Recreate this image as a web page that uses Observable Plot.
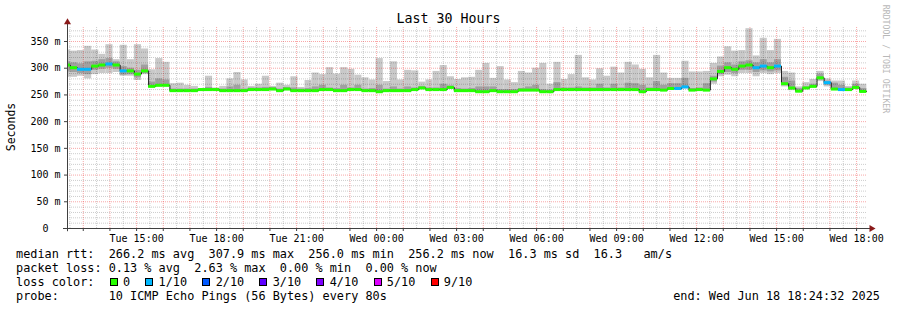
<!DOCTYPE html>
<html><head><meta charset="utf-8">
<script src="https://cdn.jsdelivr.net/npm/d3@7"></script>
<script src="https://cdn.jsdelivr.net/npm/@observablehq/plot@0.6"></script>
<style>
html,body{margin:0;padding:0;background:#fff;}
#wrap{position:relative;width:897px;height:310px;overflow:hidden;background:#fff;font-family:"DejaVu Sans Mono",monospace;color:#000;}
#chart{position:absolute;left:0;top:0;}
.title{position:absolute;left:0;top:11px;width:897px;text-align:center;font-size:13.3px;line-height:16px;}
.ylab{position:absolute;left:11px;top:127px;transform:translate(-50%,-50%) rotate(-90deg);font-size:11.5px;line-height:14px;white-space:nowrap;}
.wm{position:absolute;left:886px;top:59px;transform:translate(-50%,-50%) rotate(90deg);font-size:8.2px;line-height:10px;color:#b8b8b8;white-space:nowrap;}
.legend{position:absolute;left:16px;top:247px;width:870px;font-size:11.85px;line-height:14px;font-family:"DejaVu Sans Mono",monospace;}
.line{position:relative;height:14px;white-space:pre;}
.item{position:absolute;top:0;white-space:pre;}
.box{position:absolute;top:3px;width:6px;height:6px;border:1px solid #000;}
.end{position:absolute;right:17px;top:289px;font-size:11.85px;line-height:14px;white-space:pre;}
</style>
</head><body>
<div id="wrap">
  <div id="chart"></div>
  <div class="title">Last 30 Hours</div>
  <div class="ylab">Seconds</div>
  <div class="wm">RRDTOOL / TOBI OETIKER</div>
  <div class="legend" id="legend"></div>
  <div class="end" id="end"></div>
</div>
<script>
// ---- data (ms), one value per 16-minute step ----
const median = [
 306,301,298,298,304,306,307.9,306,295,295,289,295,266,268,268,
 258,258,258,258,260,260,260,258,258,258,258,260,260,260,261,
 258,261,258,258,258,258,260,260,258,258,260,260,258,258,256,
 258,258,258,258,260,263,260,260,260,264,258,258,258,256,256,
 258,256,256,256,259,259,259,256,256,260,260,260,260,260,260,
 260,260,260,260,260,260,256,260,260,259,262,262,265,259,260,
 259,280,294,301,298,304,306,301,304,301,304,271,263,257,263,
 266,282,273,261,260,260,264,256.5];
const smokeMax = [
 334,332,333,341,334,326,344,316,343,316,344,336,297,318,311,
 271,272,268,266,262,285,263,266,280,292,278,266,270,285,266,
 272,268,284,264,277,291,288,301,289,301,298,287,282,278,318,
 275,312,278,296,295,274,278,294,305,284,279,282,283,296,309,
 281,303,278,273,294,291,300,309,270,311,279,288,324,282,278,
 299,285,302,291,311,306,298,282,324,291,281,281,313,293,293,
 294,309,321,340,332,333,374,323,356,333,354,294,291,265,273,
 279,294,280,276,276,266,276,270];
const smokeMin = [
 283,283,285,280,288,290,290,292,285,285,277,288,264,265,265,
 256,256,256,256,258,258,258,256,256,256,256,258,258,258,259,
 256,259,256,256,256,256,258,258,256,256,258,258,256,256,254,
 256,256,256,256,258,260,258,258,258,261,256,256,256,254,254,
 256,254,254,254,257,257,257,254,254,258,258,258,258,258,258,
 258,258,258,258,258,258,254,258,258,257,259,259,261,257,258,
 257,270,284,287,284,290,290,284,290,288,290,265,258,255,260,
 263,275,265,259,258,258,262,255];
const smokeHi = [
 312,310,308,312,313,316,318,312,303,300,296,306,274,280,278,
 261,261,261,261,262,264,262,261,265,268,261,263,263,264,264,
 261,264,263,261,262,265,268,263,262,268,263,268,261,262,268,
 261,265,261,265,263,266,263,263,270,267,262,261,262,265,265,
 265,260,260,260,262,265,268,260,259,273,263,263,265,263,263,
 270,263,270,263,272,271,268,263,275,268,271,271,281,262,263,
 271,285,304,310,306,312,314,310,316,310,316,283,276,262,265,
 270,289,276,272,268,263,270,262];
const smokeLo = [
 293,292,290,288,296,298,300,298,287,288,282,290,265,267,266,
 257,257,257,257,259,259,259,257,257,257,257,259,259,259,260,
 257,260,257,257,257,257,259,259,257,257,259,259,257,257,255,
 257,257,257,257,259,262,259,259,259,263,257,257,257,255,255,
 257,255,255,255,258,258,258,255,255,259,259,259,259,259,259,
 259,259,259,259,259,259,255,259,259,258,260,260,263,258,259,
 258,274,288,292,290,296,296,292,295,293,295,268,260,256,261,
 264,278,268,260,259,259,263,255.5];
// lost pings (out of 10) per step
const loss = [
 0,0,1,1,0,0,1,0,1,0,0,0,0,0,0,
 0,0,0,0,0,0,0,0,0,0,0,0,0,0,0,
 0,0,0,0,0,0,0,0,0,0,0,0,0,0,0,
 0,0,0,0,0,0,0,0,0,0,0,0,0,0,0,
 0,0,0,0,0,0,0,0,0,0,0,0,0,0,0,
 0,0,0,0,0,0,0,0,0,0,0,1,1,0,0,
 0,0,0,0,0,0,0,1,1,0,1,0,0,0,0,
 0,0,1,0,1,0,0,0];
const yTicks = [0,50,100,150,200,250,300,350];
const lossLabels = ["0","1/10","2/10","3/10","4/10","5/10","9/10"];
const lossColors = ["#26ff00","#00b8ff","#0059ff","#5e00ff","#7e00ff","#dd00ff","#ff0000"];
const rttStats = "median rtt:  266.2 ms avg  307.9 ms max  256.0 ms min  256.2 ms now  16.3 ms sd  16.3   am/s";
const lossStats = "packet loss: 0.13 % avg  2.63 % max  0.00 % min  0.00 % now";
const probeText = "probe:       10 ICMP Echo Pings (56 Bytes) every 80s";
const endText = "end: Wed Jun 18 18:24:32 2025";

// ---- time frame ----
const stepMs = 16 * 60 * 1000;
const firstStep = new Date(Date.UTC(2025, 5, 17, 12, 15, 0));
const start = new Date(Date.UTC(2025, 5, 17, 12, 24, 32));
const end = new Date(Date.UTC(2025, 5, 18, 18, 24, 32));

function lossColor(n) {
  if (n <= 0) return lossColors[0];
  if (n <= 5) return lossColors[n];
  return lossColors[6];
}

const steps = median.map((m, i) => ({
  t1: new Date(+firstStep + i * stepMs),
  t2: new Date(+firstStep + (i + 1) * stepMs),
  median: m, min: smokeMin[i], max: smokeMax[i], lo: smokeLo[i], hi: smokeHi[i],
  color: lossColor(loss[i])
}));
const linePts = steps.map(d => ({t: d.t1, v: d.median}));
linePts.push({t: steps[steps.length - 1].t2, v: median[median.length - 1]});

const hours = d3.utcHour.range(start, end);
const halfHours = d3.utcMinute.every(30).range(start, end).filter(d => d.getUTCMinutes() === 30);
const labelTicks = d3.utcHour.every(3).range(start, end);
const minorY = d3.range(10, 380, 10).filter(v => v % 50 !== 0);
const majorY = yTicks.filter(v => v > 0);

const gridMinor = "rgba(0,0,0,0.2)";
const gridMajor = "rgba(235,0,0,0.35)";
const axisColor = "#404040";
const arrowColor = "#8a1a1a";

const chart = Plot.plot({
  width: 897, height: 310,
  marginLeft: 67, marginRight: 30, marginTop: 27, marginBottom: 82,
  style: {fontFamily: '"DejaVu Sans Mono", monospace', fontSize: "10px", background: "transparent", color: "#000"},
  x: {type: "utc", domain: [start, end], axis: null},
  y: {domain: [0, 376.2], axis: null},
  color: {type: "identity"},
  marks: [
    Plot.rect(steps, {x1: "t1", x2: "t2", y1: "min", y2: "max", fill: "#c9c9c9", clip: true}),
    Plot.rect(steps, {x1: "t1", x2: "t2", y1: "lo", y2: "hi", fill: "#a0a0a0", clip: true}),
    Plot.ruleY(minorY, {stroke: gridMinor, strokeDasharray: "1,1"}),
    Plot.ruleX(halfHours, {stroke: gridMinor, strokeDasharray: "1,1"}),
    Plot.ruleY(majorY, {stroke: gridMajor, strokeDasharray: "1,1"}),
    Plot.ruleX(hours, {stroke: gridMajor, strokeDasharray: "1,1"}),
    Plot.line(linePts, {x: "t", y: "v", curve: "step-after", stroke: "#202020", strokeWidth: 1, clip: true}),
    Plot.ruleY(steps, {y: "median", x1: "t1", x2: "t2", stroke: "color", strokeWidth: 3, clip: true}),
    Plot.axisY(yTicks, {tickSize: 3, tickPadding: 4, stroke: axisColor, fill: "#000",
      tickFormat: d => d === 0 ? "0\u00a0\u00a0" : `${d} m`}),
    Plot.axisX(hours, {tickSize: 3, stroke: axisColor, tickFormat: () => ""}),
    Plot.axisX(labelTicks, {tickSize: 0, tickPadding: 6, fill: "#000", tickFormat: d3.utcFormat("%a %H:%M")}),
    Plot.ruleX([start], {y1: -6, y2: 383, stroke: axisColor}),
    Plot.ruleY([0], {x1: d3.utcMinute.offset(start, -9), x2: d3.utcMinute.offset(end, 8), stroke: axisColor}),
    Plot.dot([end], {x: d => d, y: () => 0, symbol: "triangle", rotate: 90, r: 2.6, fill: arrowColor, dx: 4}),
    Plot.dot([start], {x: d => d, y: () => 386, symbol: "triangle", r: 2.6, fill: arrowColor})
  ]
});
document.getElementById("chart").appendChild(chart);

// ---- legend ----
const legend = document.getElementById("legend");
function addLine(text) {
  const div = document.createElement("div");
  div.className = "line";
  div.textContent = text;
  legend.appendChild(div);
  return div;
}
addLine(rttStats);
addLine(lossStats);
const l3 = addLine("loss color:");
lossLabels.forEach((lab, i) => {
  const col = i === 0 ? 13 : 18 + 8 * (i - 1);
  const box = document.createElement("span");
  box.className = "box";
  box.style.left = `calc(${col}ch + 1px)`;
  box.style.background = lossColors[i];
  l3.appendChild(box);
  const t = document.createElement("span");
  t.className = "item";
  t.style.left = `${col + 2}ch`;
  t.textContent = lab;
  l3.appendChild(t);
});
addLine(probeText);
document.getElementById("end").textContent = endText;
</script>
</body></html>
